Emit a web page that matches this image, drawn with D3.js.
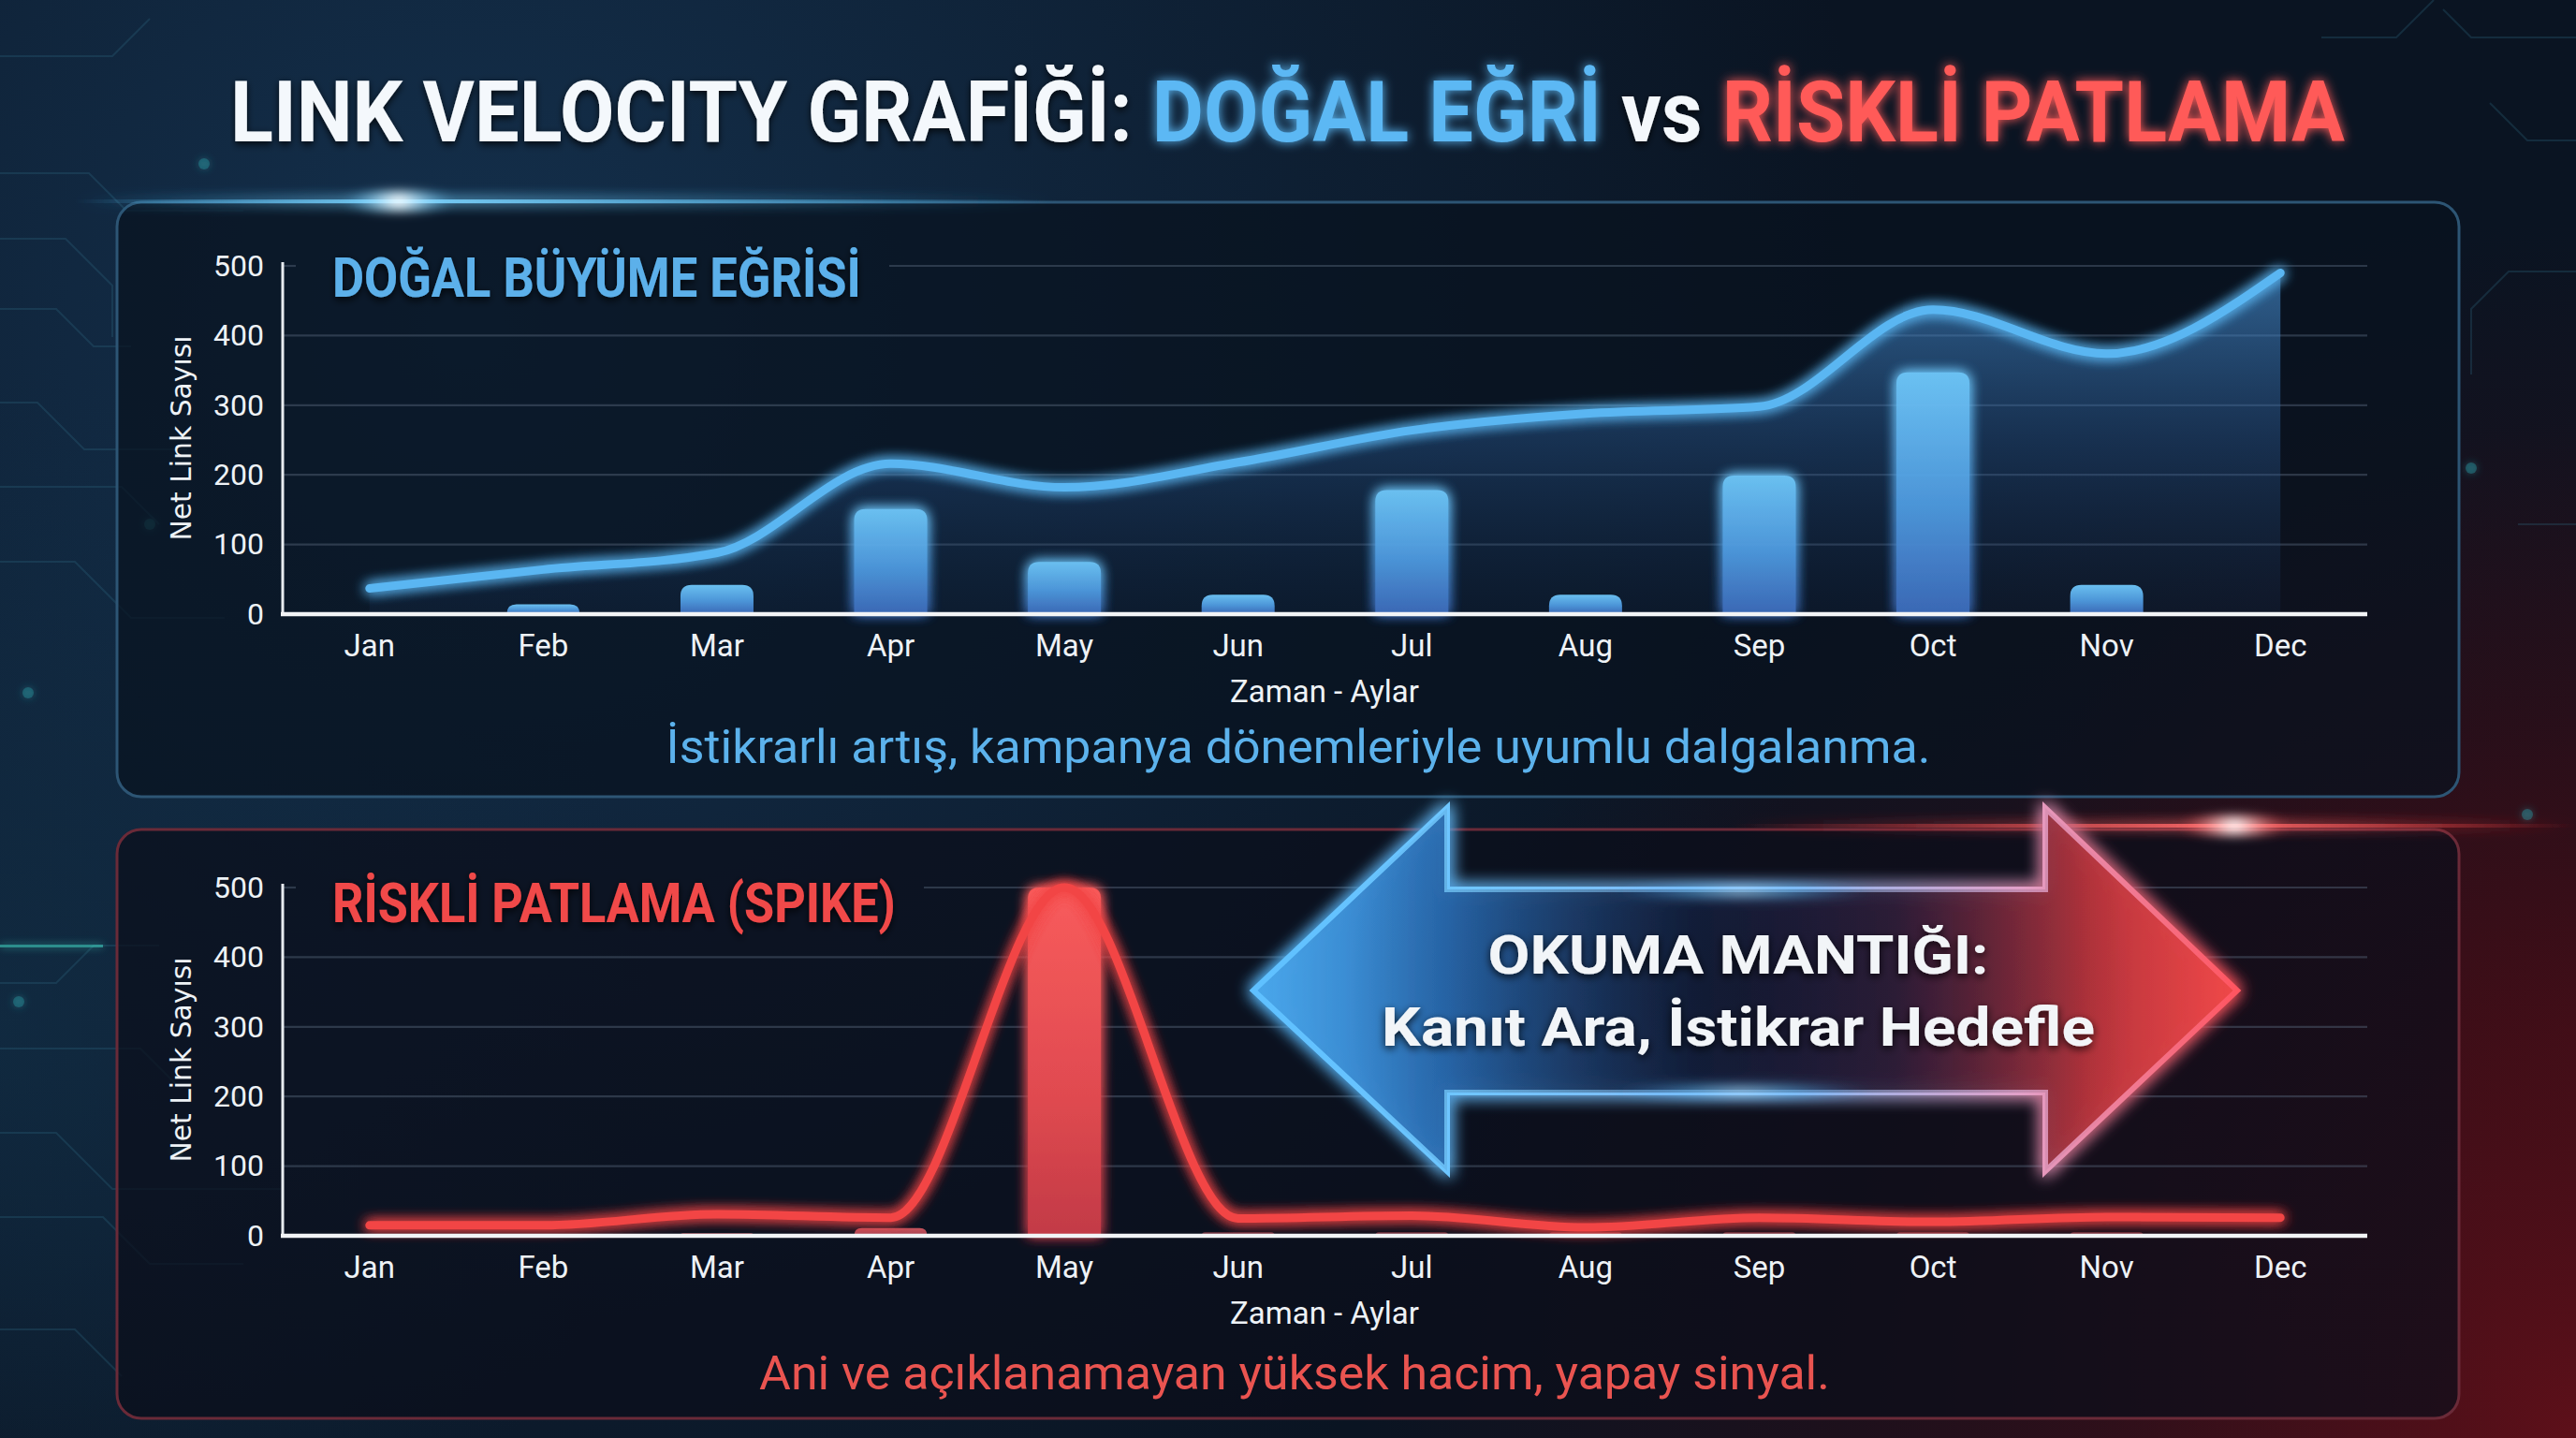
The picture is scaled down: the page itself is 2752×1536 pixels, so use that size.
<!DOCTYPE html>
<html><head><meta charset="utf-8">
<script src="https://cdn.jsdelivr.net/npm/d3@7"></script>
<style>html,body{margin:0;padding:0;background:#0a1220;} svg{display:block;}</style>
</head><body>
<script>
// ---------- DATA ----------
const months = ["Jan","Feb","Mar","Apr","May","Jun","Jul","Aug","Sep","Oct","Nov","Dec"];
const naturalLine = [37, 64, 88, 216, 182, 218, 264, 288, 298, 437, 374, 490];
const naturalBars = [0, 14, 42, 151, 75, 28, 178, 28, 199, 347, 42, 0];
const spikeLine = [15, 15, 31, 26, 500, 25, 29, 12, 26, 20, 27, 26];
const spikeBars = [0, 0, 4, 11, 500, 5, 5, 5, 5, 5, 5, 0];
const yTicks = [0, 100, 200, 300, 400, 500];

const titleParts = [
  {t:"LINK VELOCITY GRAFİĞİ: ", c:"#f4f8fc", g:null},
  {t:"DOĞAL EĞRİ", c:"#5cb8f4", g:"glowBlueTxt"},
  {t:" vs ", c:"#f4f8fc", g:null},
  {t:"RİSKLİ PATLAMA", c:"#ff5a58", g:"glowRedTxt"}
];

// ---------- SETUP ----------
const W = 2752, H = 1536;
const svg = d3.select("body").append("svg").attr("width", W).attr("height", H);
const defs = svg.append("defs");

function glow(id, std, n) {
  const f = defs.append("filter").attr("id", id).attr("filterUnits", "userSpaceOnUse")
    .attr("x", 0).attr("y", 0).attr("width", W).attr("height", H);
  f.append("feGaussianBlur").attr("in", "SourceGraphic").attr("stdDeviation", std).attr("result", "b");
  const m = f.append("feMerge");
  for (let i = 0; i < n; i++) m.append("feMergeNode").attr("in", "b");
  m.append("feMergeNode").attr("in", "SourceGraphic");
}
glow("glowBlue", 7, 2);
glow("glowRed", 7, 2);
glow("glowBlueTxt", 6, 1);
glow("glowRedTxt", 6, 1);
glow("glowSoft", 4, 1);
glow("glowArrow", 9, 2);
function blurOnly(id, std) {
  const f = defs.append("filter").attr("id", id).attr("filterUnits", "userSpaceOnUse")
    .attr("x", 0).attr("y", 0).attr("width", W).attr("height", H);
  f.append("feGaussianBlur").attr("stdDeviation", std);
}
blurOnly("blur6", 6);
blurOnly("blur14", 14);
const shadowF = defs.append("filter").attr("id", "txtShadow").attr("filterUnits", "userSpaceOnUse")
  .attr("x", 0).attr("y", 0).attr("width", W).attr("height", H);
shadowF.append("feDropShadow").attr("dx", 0).attr("dy", 3).attr("stdDeviation", 4).attr("flood-color", "#000").attr("flood-opacity", 0.8);

function linGrad(id, x1, y1, x2, y2, stops, units) {
  const g = defs.append("linearGradient").attr("id", id)
    .attr("x1", x1).attr("y1", y1).attr("x2", x2).attr("y2", y2);
  if (units) g.attr("gradientUnits", units);
  stops.forEach(s => g.append("stop").attr("offset", s[0]).attr("stop-color", s[1]).attr("stop-opacity", s[2] ?? 1));
  return g;
}
function radGrad(id, cx, cy, r, stops) {
  const g = defs.append("radialGradient").attr("id", id).attr("gradientUnits", "userSpaceOnUse")
    .attr("cx", cx).attr("cy", cy).attr("r", r);
  stops.forEach(s => g.append("stop").attr("offset", s[0]).attr("stop-color", s[1]).attr("stop-opacity", s[2]));
}

// ---------- BACKGROUND ----------
svg.append("rect").attr("width", W).attr("height", H).attr("fill", "#0a1422");
radGrad("bgBlue", 500, 350, 1500, [[0, "#17395a", 0.75], [1, "#17395a", 0]]);
radGrad("bgRed", 2752, 1536, 1300, [[0, "#6a0f18", 0.85], [0.6, "#3a0a12", 0.4], [1, "#3a0a12", 0]]);
radGrad("bgRed2", 2752, 1100, 650, [[0, "#4a0d16", 0.55], [1, "#4a0d16", 0]]);
radGrad("bgBlue2", 0, 1100, 700, [[0, "#123048", 0.6], [1, "#123048", 0]]);
svg.append("rect").attr("width", W).attr("height", H).attr("fill", "url(#bgBlue)");
svg.append("rect").attr("width", W).attr("height", H).attr("fill", "url(#bgBlue2)");
svg.append("rect").attr("width", W).attr("height", H).attr("fill", "url(#bgRed2)");
svg.append("rect").attr("width", W).attr("height", H).attr("fill", "url(#bgRed)");

// circuit decoration
const circ = svg.append("g").attr("fill", "none").attr("stroke", "#2f6a86").attr("stroke-opacity", 0.28).attr("stroke-width", 2);
const circuitPaths = [
  "M0,185 L95,185 L135,225 L260,225",
  "M0,255 L70,255 L120,305 L120,360",
  "M0,330 L60,330 L100,370 L140,370",
  "M0,430 L40,430 L90,480 L200,480",
  "M0,520 L130,520 L170,560",
  "M0,600 L80,600 L140,660 L240,660",
  "M0,1050 L60,1050 L100,1010 L170,1010",
  "M0,1120 L150,1120 L190,1160",
  "M0,1210 L60,1210 L120,1270 L300,1270",
  "M0,1300 L110,1300 L160,1350 L260,1350",
  "M0,1420 L80,1420 L130,1470",
  "M2752,40 L2640,40 L2610,10",
  "M2752,290 L2680,290 L2640,330 L2640,400",
  "M2752,150 L2700,150 L2660,110",
  "M2752,560 L2690,560",
  "M0,60 L120,60 L160,20",
  "M2480,40 L2560,40 L2600,0"
];
circ.selectAll("path").data(circuitPaths).join("path").attr("d", d => d);
const dots = [[218, 175], [160, 560], [20, 1070], [250, 1170], [190, 1230], [30, 740], [2700, 870], [2640, 500]];
svg.append("g").selectAll("circle").data(dots).join("circle")
  .attr("cx", d => d[0]).attr("cy", d => d[1]).attr("r", 6)
  .attr("fill", "#2a8f9a").attr("fill-opacity", 0.45).attr("filter", "url(#glowSoft)");
// teal streak left
svg.append("rect").attr("x", 0).attr("y", 1009).attr("width", 110).attr("height", 3).attr("fill", "#3fd1c0")
  .attr("opacity", 0.6).attr("filter", "url(#glowSoft)");

// ---------- PANELS ----------
const panels = [
  {x: 125, y: 216, w: 2502, h: 635, stroke: "#2d5574", fill: "#08121f"},
  {x: 125, y: 886, w: 2502, h: 629, stroke: "#6a2a38", fill: "#0b0e1a"}
];
svg.append("g").selectAll("rect").data(panels).join("rect")
  .attr("x", d => d.x).attr("y", d => d.y).attr("width", d => d.w).attr("height", d => d.h)
  .attr("rx", 26).attr("fill", d => d.fill).attr("fill-opacity", 0.72)
  .attr("stroke", d => d.stroke).attr("stroke-width", 3);

// panel edge highlights
linGrad("hlBlue", 0, 0, 1, 0, [[0, "#4fc3ff", 0], [0.33, "#7fd6ff", 0.9], [1, "#4fc3ff", 0]]);
linGrad("hlRed", 0, 0, 1, 0, [[0, "#ff3b3b", 0], [0.58, "#ff6d6d", 0.9], [1, "#ff3b3b", 0]]);
svg.append("rect").attr("x", 80).attr("y", 213).attr("width", 1050).attr("height", 4).attr("fill", "url(#hlBlue)").attr("filter", "url(#glowBlue)");
radGrad("spotBlue", 426, 215, 60, [[0, "#ffffff", 1], [0.3, "#bfeaff", 0.8], [1, "#4fc3ff", 0]]);
radGrad("spotRed", 2387, 882, 60, [[0, "#ffffff", 1], [0.3, "#ffc0c0", 0.8], [1, "#ff4040", 0]]);
svg.append("ellipse").attr("cx", 426).attr("cy", 215).attr("rx", 60).attr("ry", 10).attr("fill", "url(#spotBlue)").attr("filter", "url(#blur6)");
svg.append("rect").attr("x", 1850).attr("y", 880).attr("width", 902).attr("height", 4).attr("fill", "url(#hlRed)").attr("filter", "url(#glowRed)");
svg.append("ellipse").attr("cx", 2387).attr("cy", 882).attr("rx", 60).attr("ry", 10).attr("fill", "url(#spotRed)").attr("filter", "url(#blur6)");

// ---------- TITLE ----------
function fitX(sel, target, anchor) {
  const w = sel.node().getBBox().width;
  const k = target / w;
  sel.attr("transform", `translate(${anchor},0) scale(${k},1) translate(${-anchor},0)`);
}
const titleG = svg.append("g");
let tx = 0;
titleParts.forEach(p => {
  const t = titleG.append("text").attr("x", tx).attr("y", 151)
    .attr("font-family", "Roboto, 'Noto Sans', sans-serif").attr("font-weight", 700)
    .attr("font-size", 90).attr("fill", p.c).attr("xml:space", "preserve").style("white-space", "pre")
    .text(p.t);
  if (p.g) t.attr("filter", `url(#${p.g})`); else t.attr("filter", "url(#txtShadow)");
  tx += t.node().getComputedTextLength();
});
{
  const k = 2259 / tx;
  titleG.attr("transform", `translate(246,0) scale(${k},1)`);
}

// ---------- CHARTS ----------
const x = d3.scaleBand().domain(months).range([302, 2529]).paddingInner(0).paddingOuter(0);
const cx = m => x(m) + x.bandwidth() / 2;
const barW = 78;

function roundTop(x0, y0, w, h, r) {
  r = Math.min(r, h, w / 2);
  if (h <= 0) return "";
  return `M${x0},${y0 + h} L${x0},${y0 + r} Q${x0},${y0} ${x0 + r},${y0} L${x0 + w - r},${y0} Q${x0 + w},${y0} ${x0 + w},${y0 + r} L${x0 + w},${y0 + h} Z`;
}

linGrad("barBlue", 0, 0, 0, 1, [[0, "#6fc8fa"], [0.55, "#4f9be0"], [1, "#3d6cbc"]]);
linGrad("barRed", 0, 0, 0, 1, [[0, "#f85c5c"], [0.6, "#e04a50"], [1, "#c23a46"]]);
linGrad("barRedSmall", 0, 0, 0, 1, [[0, "#e86068"], [1, "#c04858"]]);

function drawChart(cfg) {
  const y = d3.scaleLinear().domain([0, 500]).range([cfg.y0, cfg.y500]);
  const g = svg.append("g");

  // subtitle (drawn first so we know where the top gridline starts)
  const sub = g.append("text").attr("x", 355).attr("y", cfg.subY)
    .attr("font-family", "Roboto, sans-serif").attr("font-weight", 700).attr("font-size", 60)
    .attr("fill", cfg.subColor).attr("filter", "url(#txtShadow)").text(cfg.subtitle);
  fitX(sub, cfg.subW, 355);
  const subRight = 355 + cfg.subW;

  // gridlines
  const grid = g.append("g").attr("stroke", "#56657a").attr("stroke-opacity", 0.45).attr("stroke-width", 2.2);
  grid.selectAll("line").data(yTicks.filter(d => d > 0)).join("line")
    .attr("x1", d => d === 500 ? subRight + 30 : 302).attr("x2", 2529)
    .attr("y1", d => y(d)).attr("y2", d => y(d));
  grid.append("line").attr("x1", 302).attr("x2", 316).attr("y1", y(500)).attr("y2", y(500));

  cfg.extra && cfg.extra(g, y);

  // bars
  g.append("g").selectAll("path").data(cfg.bars.map((v, i) => ({m: months[i], v})).filter(d => d.v > 0))
    .join("path")
    .attr("d", d => roundTop(cx(d.m) - barW / 2, y(d.v), barW, y(0) - y(d.v), 12))
    .attr("fill", d => cfg.barFill(d))
    .attr("opacity", d => cfg.barOpacity(d))
    .attr("filter", d => d.v > 50 ? `url(#${cfg.glow})` : null);

  // line
  const line = d3.line().x((d, i) => cx(months[i])).y(d => y(d)).curve(d3.curveMonotoneX);
  g.append("path").datum(cfg.line).attr("d", line).attr("fill", "none")
    .attr("stroke", cfg.lineColor).attr("stroke-width", 9).attr("stroke-linecap", "round")
    .attr("stroke-linejoin", "round").attr("filter", `url(#${cfg.glow})`);

  // y axis
  const ya = g.append("g").attr("transform", "translate(302,0)")
    .call(d3.axisLeft(y).tickValues(yTicks).tickSize(0).tickPadding(20).tickFormat(d3.format("d")));
  ya.select(".domain").remove();
  ya.selectAll("text").attr("font-family", "Roboto, sans-serif").attr("font-size", 32).attr("fill", "#eef2f6");
  g.append("line").attr("x1", 302).attr("x2", 302).attr("y1", y(0)).attr("y2", y(500) - 4)
    .attr("stroke", "#e8ecf0").attr("stroke-width", 3);

  // x axis
  const xa = g.append("g").attr("transform", `translate(0,${y(0)})`)
    .call(d3.axisBottom(x).tickSize(0).tickPadding(22));
  xa.select(".domain").remove();
  xa.selectAll("text").attr("font-family", "Roboto, sans-serif").attr("font-size", 33).attr("fill", "#eef2f6");
  g.append("line").attr("x1", 300).attr("x2", 2529).attr("y1", y(0)).attr("y2", y(0))
    .attr("stroke", "#f2f4f6").attr("stroke-width", 4.5);

  // axis titles
  g.append("text").attr("transform", `translate(204,${(y(0) + y(500)) / 2 - 2}) rotate(-90)`)
    .attr("text-anchor", "middle").attr("font-family", "'DejaVu Sans', Roboto, sans-serif").attr("font-size", 30)
    .attr("textLength", 219).attr("lengthAdjust", "spacingAndGlyphs")
    .attr("fill", "#eef2f6").text("Net Link Sayısı");
  g.append("text").attr("x", 1415).attr("y", y(0) + 94).attr("text-anchor", "middle")
    .attr("font-family", "Roboto, sans-serif").attr("font-size", 33).attr("fill", "#eef2f6").text("Zaman - Aylar");

  // caption
  const cap = g.append("text").attr("x", cfg.capX).attr("y", cfg.capY).attr("text-anchor", "middle")
    .attr("font-family", "Roboto, sans-serif").attr("font-size", 50).attr("fill", cfg.capColor)
    .text(cfg.caption);
  fitX(cap, cfg.capW, cfg.capX);
}

// top chart
drawChart({
  y0: 656, y500: 284, subY: 317, subW: 565, subColor: "#5cb0ea", subtitle: "DOĞAL BÜYÜME EĞRİSİ",
  bars: naturalBars, line: naturalLine, lineColor: "#5ab6f2", glow: "glowBlue",
  barFill: () => "url(#barBlue)", barOpacity: () => 0.95,
  caption: "İstikrarlı artış, kampanya dönemleriyle uyumlu dalgalanma.", capColor: "#5cb2ec",
  capX: 1387, capY: 815, capW: 1351,
  extra: (g, y) => {
    linGrad("areaBlue", 0, 284, 0, 656, [[0, "#4d9ae0", 0.6], [0.5, "#2e62a0", 0.38], [1, "#1c3a66", 0.15]], "userSpaceOnUse");
    const area = d3.area().x((d, i) => cx(months[i])).y0(y(0)).y1(d => y(d)).curve(d3.curveMonotoneX);
    g.append("path").datum(naturalLine).attr("d", area).attr("fill", "url(#areaBlue)");
  }
});

// bottom chart
drawChart({
  y0: 1320, y500: 948, subY: 985, subW: 602, subColor: "#f04848", subtitle: "RİSKLİ PATLAMA (SPIKE)",
  bars: spikeBars, line: spikeLine, lineColor: "#f24545", glow: "glowRed",
  barFill: d => d.v > 50 ? "url(#barRed)" : "url(#barRedSmall)",
  barOpacity: d => d.v > 50 ? 1 : (d.v > 8 ? 0.85 : 0.5),
  caption: "Ani ve açıklanamayan yüksek hacim, yapay sinyal.", capColor: "#ea5450",
  capX: 1383, capY: 1484, capW: 1144
});

// ---------- DOUBLE ARROW ----------
const arrowPts = [[1339, 1058], [1546, 863], [1546, 950], [2185, 950], [2185, 863], [2390, 1058],
                  [2185, 1251], [2185, 1167], [1546, 1167], [1546, 1251]];
linGrad("arrowFill", 1339, 0, 2390, 0, [
  [0, "#4aa8ec", 0.95], [0.2, "#2a6fb8", 0.88], [0.45, "#16264a", 0.9],
  [0.65, "#3a2040", 0.88], [0.85, "#b8343c", 0.92], [1, "#f04848", 0.95]], "userSpaceOnUse");
linGrad("arrowStroke", 1339, 0, 2390, 0, [
  [0, "#5ec0ff"], [0.2, "#6ec6ff"], [0.55, "#8ab8f0"], [0.78, "#e2a0c8"], [1, "#ff5560"]], "userSpaceOnUse");
radGrad("arrowInner", 1860, 1058, 420, [[0, "#0c1020", 0.55], [1, "#0c1020", 0]]);
const arrowG = svg.append("g");
arrowG.append("polygon").attr("points", arrowPts.map(p => p.join(",")).join(" "))
  .attr("fill", "url(#arrowFill)").attr("stroke", "url(#arrowStroke)").attr("stroke-width", 6)
  .attr("stroke-linejoin", "miter").attr("filter", "url(#glowArrow)");
arrowG.append("polygon").attr("points", arrowPts.map(p => p.join(",")).join(" "))
  .attr("fill", "url(#arrowInner)");
// shaft-edge glows
radGrad("shaftGlow", 0, 0, 1, [[0, "#d8f2ff", 0.9], [0.4, "#6cc8ff", 0.6], [1, "#3ca0ff", 0]]);
defs.select("#shaftGlow").attr("gradientUnits", "objectBoundingBox").attr("cx", 0.5).attr("cy", 0.5).attr("r", 0.5);
[952, 1166].forEach(yy => {
  arrowG.append("ellipse").attr("cx", 1860).attr("cy", yy).attr("rx", 140).attr("ry", 10)
    .attr("fill", "url(#shaftGlow)").attr("filter", "url(#blur6)");
});

const t1 = arrowG.append("text").attr("x", 1857).attr("y", 1040).attr("text-anchor", "middle")
  .attr("font-family", "Roboto, sans-serif").attr("font-weight", 700).attr("font-size", 58)
  .attr("fill", "#f2f5f8").attr("filter", "url(#txtShadow)").text("OKUMA MANTIĞI:");
fitX(t1, 535, 1857);
const t2 = arrowG.append("text").attr("x", 1857).attr("y", 1117).attr("text-anchor", "middle")
  .attr("font-family", "Roboto, sans-serif").attr("font-weight", 700).attr("font-size", 58)
  .attr("fill", "#f2f5f8").attr("filter", "url(#txtShadow)").text("Kanıt Ara, İstikrar Hedefle");
fitX(t2, 762, 1857);
</script>
</body></html>
